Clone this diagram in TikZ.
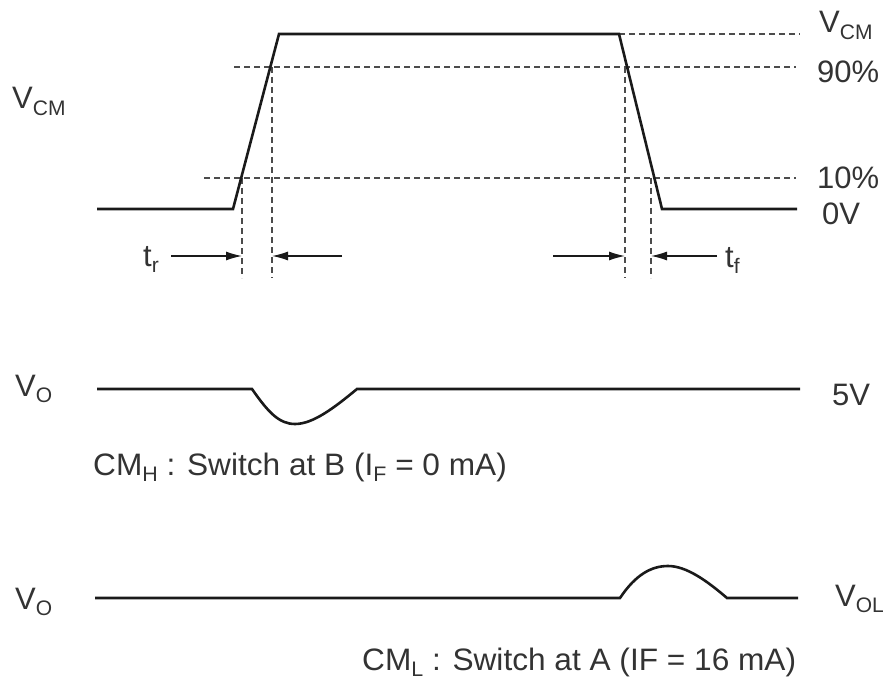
\documentclass[tikz,border=0pt]{standalone}
\usepackage{fontspec}
\setmainfont{Liberation Sans}
\usetikzlibrary{arrows.meta,calc}
\newcommand\lblsub[2]{#1\raisebox{-0.2em}{\fontsize{21}{21}\selectfont #2}}
\definecolor{ink}{HTML}{1A1A1A}
\definecolor{txt}{HTML}{333333}
\tikzset{
  wave/.style={line width=2.6pt, draw=ink, line join=miter},
  guide/.style={line width=1.3pt, draw=black!70, dash pattern=on 6pt off 4pt},
  dim/.style={line width=1.3pt, draw=ink, -{Latex[length=16pt,width=9pt]}},
  lbl/.style={anchor=base west, inner sep=0pt, text=txt, font=\fontsize{31}{36}\selectfont},
}
\begin{document}
\begin{tikzpicture}[x=1pt,y=-1pt]
\useasboundingbox (0,0) rectangle (891,679);
% top waveform corners
\coordinate (a0) at (97,209);
\coordinate (a1) at (233,209);
\coordinate (a2) at (279,34);
\coordinate (a3) at (619,34);
\coordinate (a4) at (662,209);
\coordinate (a5) at (797,209);
% guides
\coordinate (vcmE) at (800,34);
\coordinate (n90W) at (234,67);
\coordinate (n90E) at (796,67);
\coordinate (n10W) at (204,178);
\coordinate (n10E) at (796,178);
\coordinate (r10) at (242,178);
\coordinate (r90) at (272,67);
\coordinate (f90) at (625,67);
\coordinate (f10) at (651,178);
\coordinate (r10b) at (242,278);
\coordinate (r90b) at (272,278);
\coordinate (f90b) at (625,278);
\coordinate (f10b) at (651,278);
% arrows
\coordinate (trA) at (171,256);
\coordinate (trAe) at (242,256);
\coordinate (trB) at (342,256);
\coordinate (trBe) at (272,256);
\coordinate (tfA) at (553,256);
\coordinate (tfAe) at (625,256);
\coordinate (tfB) at (717,256);
\coordinate (tfBe) at (651,256);

\draw[guide] (a3) -- (vcmE);
\draw[guide] (n90W) -- (n90E);
\draw[guide] (n10W) -- (n10E);
\draw[guide] (r10) -- (r10b);
\draw[guide] (r90) -- (r90b);
\draw[guide] (f90) -- (f90b);
\draw[guide] (f10) -- (f10b);

\draw[wave] (a0) -- (a1) -- (a2) -- (a3) -- (a4) -- (a5);

\draw[dim] (trA) -- (trAe);
\draw[dim] (trB) -- (trBe);
\draw[dim] (tfA) -- (tfAe);
\draw[dim] (tfB) -- (tfBe);

% second waveform
\coordinate (b0) at (97,389);
\coordinate (b1) at (252,389);
\coordinate (b2) at (295,424);
\coordinate (b3) at (357,389);
\coordinate (b4) at (800,389);
\draw[wave] (b0) -- (b1) .. controls (268,412) and (279,424) .. (b2)
  .. controls (313,424) and (334,408) .. (b3) -- (b4);

% third waveform
\coordinate (c0) at (95,598);
\coordinate (c1) at (620,598);
\coordinate (c2) at (668,566);
\coordinate (c3) at (727,598);
\coordinate (c4) at (798,598);
\draw[wave] (c0) -- (c1) .. controls (636,574) and (652,566) .. (c2)
  .. controls (686,566) and (706,580) .. (c3) -- (c4);

% labels
\node[lbl] (vcmL) at (12,109) {\lblsub{V}{CM}};
\node[lbl] (vcmR) at (819,33) {\lblsub{V}{CM}};
\node[lbl] (p90) at (817,83) {90\%};
\node[lbl] (p10) at (817,189) {10\%};
\node[lbl] (zv) at (822,224) {0V};
\node[lbl] (tr) at (143,266) {\lblsub{t}{r}};
\node[lbl] (tf) at (725,267) {\lblsub{t}{f}};
\node[lbl] (vo1) at (15,396) {\lblsub{V}{O}};
\node[lbl] (fv) at (832,405) {5V};
\node[lbl] (cmh) at (93,475) {\scalebox{1.02}[1]{\lblsub{CM}{H} : Switch at B (\lblsub{I}{F} = 0 mA)}};
\node[lbl] (vo2) at (15,609) {\lblsub{V}{O}};
\node[lbl] (vol) at (835,606) {\lblsub{V}{OL}};
\node[lbl] (cml) at (362,670) {\scalebox{1.02}[1]{\lblsub{CM}{L} : Switch at A (IF = 16 mA)}};
\end{tikzpicture}
\end{document}
